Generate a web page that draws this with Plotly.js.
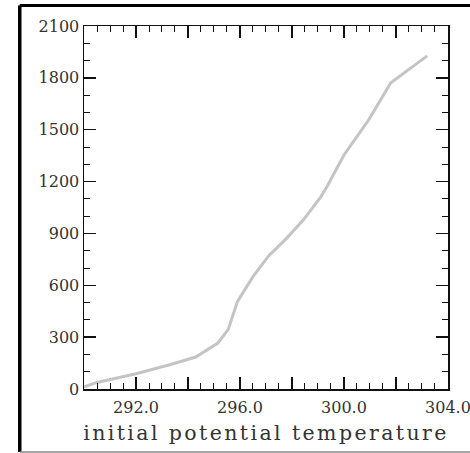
<!DOCTYPE html>
<html>
<head>
<meta charset="utf-8">
<script src="https://cdn.plot.ly/plotly-3.0.1.min.js"></script>
<style>
  html, body { margin: 0; padding: 0; background: #fff; overflow: hidden; width: 470px; height: 453px; }
  #chart { position: absolute; left: 0; top: 0; width: 470px; height: 453px; }
  .xtitle { letter-spacing: 2.4px; }
</style>
</head>
<body>
<div id="chart"></div>
<script>
// Data
const theta = [290.0, 290.5, 292.0, 293.3, 294.3, 295.15, 295.55, 295.75, 295.9, 296.5, 297.1, 297.8, 298.45, 299.1, 299.35, 300.0, 300.95, 301.8, 303.2];
const values = [12, 38, 88, 140, 185, 266, 345, 445, 505, 650, 770, 873, 980, 1110, 1171, 1354, 1557, 1772, 1927];

const xTickVals = [290, 292, 294, 296, 298, 300, 302, 304];
const xTickText = ['', '292.0', '', '296.0', '', '300.0', '', '304.0'];
const yTickVals = [0, 300, 600, 900, 1200, 1500, 1800, 2100];
const yTickText = ['0', '300', '600', '900', '1200', '1500', '1800', '2100'];
const xTitle = 'initial potential temperature';

const font = { family: 'DejaVu Serif', size: 16, color: '#333' };

const trace = {
  x: theta, y: values, type: 'scatter', mode: 'lines',
  line: { color: '#c4c4c4', width: 3 },
  hoverinfo: 'skip'
};

const axisCommon = {
  showgrid: false, zeroline: false, showline: true, linecolor: '#111', linewidth: 1.5,
  mirror: 'ticks', ticks: 'inside', ticklen: 12, tickwidth: 1.5, tickcolor: '#111',
  tickfont: font, ticklabeloverflow: 'allow'
};

// outer frame (paper coordinates: plot area spans 84..448 px horizontally, 26..389 px vertically)
const fx0 = (19.75 - 84) / 364, fx1 = (470 - 84) / 364;
const fyTop = (389 - 5.5) / 363, fyBot = (389 - 452) / 363;

const layout = {
  width: 470, height: 453,
  margin: { l: 84, r: 22, t: 26, b: 64 },
  paper_bgcolor: '#fff', plot_bgcolor: '#fff',
  showlegend: false,
  xaxis: Object.assign({}, axisCommon, {
    range: [290, 304.001], tickmode: 'array', tickvals: xTickVals, ticktext: xTickText,
    ticklabelstandoff: 3,
    minor: { dtick: 0.5, ticks: 'inside', ticklen: 6, tickwidth: 1, tickcolor: '#111' },
    title: { text: xTitle, font: { family: 'DejaVu Serif', size: 20.5, color: '#333' }, standoff: 10 }
  }),
  yaxis: Object.assign({}, axisCommon, {
    range: [0, 2100], tickmode: 'array', tickvals: yTickVals, ticktext: yTickText,
    minor: { dtick: 100, ticks: 'inside', ticklen: 6, tickwidth: 1, tickcolor: '#111' }
  }),
  shapes: [
    { type: 'line', xref: 'paper', yref: 'paper', x0: fx0, x1: fx1, y0: fyTop, y1: fyTop, line: { color: '#000', width: 3 } },
    { type: 'line', xref: 'paper', yref: 'paper', x0: fx0, x1: fx0, y0: fyTop, y1: fyBot, line: { color: '#000', width: 3.5 } },
    { type: 'line', xref: 'paper', yref: 'paper', x0: fx0, x1: fx1, y0: fyBot, y1: fyBot, line: { color: '#8a8a8a', width: 1.5 } }
  ]
};

Plotly.newPlot('chart', [trace], layout, { staticPlot: true, displayModeBar: false });
</script>
</body>
</html>
